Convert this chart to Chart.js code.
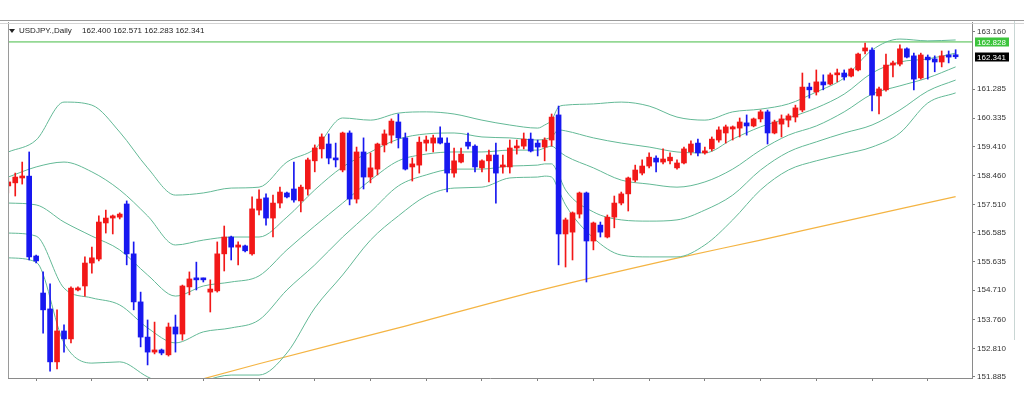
<!DOCTYPE html>
<html>
<head>
<meta charset="utf-8">
<title>USDJPY Daily</title>
<script src="https://cdn.jsdelivr.net/npm/chart.js@4.4.1/dist/chart.umd.min.js"></script>
<style>
  html, body { margin: 0; padding: 0; background: #fff; }
  #wrap { position: relative; width: 1024px; height: 402px; }
</style>
</head>
<body>
<div id="wrap"><canvas id="chart"></canvas></div>
<script>
const symbolTitle = "USDJPY.,Daily";
const lastQuote = ["162.400", "162.571", "162.283", "162.341"];

// Daily candles, oldest first
const opens = [
  158.12, 158.22, 158.38, 158.44, 155.83, 154.62, 154.10, 152.37, 153.38, 153.12,
  154.72, 154.85, 155.60, 155.73, 156.91, 157.07, 157.10, 157.53, 155.90, 154.33,
  153.18, 152.69, 152.76, 152.60, 153.51, 153.28, 154.82, 155.08, 155.08, 154.65,
  154.69, 155.90, 156.45, 156.12, 156.16, 155.90, 157.33, 157.73, 157.07, 157.56,
  157.89, 158.02, 157.63, 158.02, 158.94, 159.33, 159.49, 159.03, 158.64, 159.85,
  157.69, 159.23, 158.41, 158.67, 159.46, 159.78, 160.21, 159.69, 158.74, 158.80,
  159.52, 159.52, 159.69, 159.52, 158.54, 158.90, 159.55, 159.42, 158.71, 158.94,
  159.13, 158.74, 158.74, 159.36, 159.42, 159.65, 159.52, 159.39, 159.62, 160.44,
  156.55, 156.61, 157.20, 157.89, 156.32, 156.84, 156.45, 157.10, 157.56, 157.86,
  158.31, 158.54, 158.77, 159.03, 158.90, 158.94, 158.71, 158.87, 159.23, 159.52,
  159.20, 159.33, 159.62, 159.85, 159.98, 160.01, 160.18, 160.08, 160.31, 160.54,
  159.85, 160.14, 160.27, 160.37, 160.60, 161.35, 161.19, 161.52, 161.45, 161.75,
  161.81, 161.71, 161.91, 162.53, 162.56, 161.06, 161.26, 162.07, 162.10, 162.60,
  162.37, 161.65, 162.33, 162.27, 162.17, 162.40, 162.400
];
const highs = [
  158.38, 158.54, 158.90, 159.23, 155.86, 155.31, 154.92, 154.07, 153.58, 154.82,
  154.82, 155.80, 156.12, 157.14, 157.33, 157.17, 157.24, 157.63, 156.29, 154.65,
  153.74, 153.67, 152.79, 153.64, 153.90, 154.88, 155.31, 155.63, 155.11, 155.05,
  156.29, 156.81, 156.48, 156.29, 156.19, 157.76, 157.99, 157.86, 157.82, 158.08,
  157.92, 158.90, 158.15, 159.03, 159.46, 159.82, 159.82, 159.52, 159.88, 159.92,
  159.39, 159.69, 159.20, 159.52, 159.95, 160.31, 160.47, 159.85, 159.03, 159.72,
  159.75, 159.78, 160.05, 159.69, 159.36, 159.36, 159.85, 159.46, 158.97, 159.29,
  159.52, 159.13, 159.62, 159.62, 159.85, 159.85, 159.62, 159.69, 160.47, 160.73,
  157.07, 157.27, 157.92, 157.92, 156.94, 156.94, 157.17, 157.79, 157.92, 158.41,
  158.80, 158.97, 159.20, 159.10, 159.33, 159.20, 158.97, 159.39, 159.59, 159.65,
  159.39, 159.72, 160.05, 160.11, 160.08, 160.34, 160.44, 160.34, 160.60, 160.60,
  160.27, 160.44, 160.47, 160.76, 161.81, 161.48, 161.91, 161.75, 161.81, 161.94,
  161.91, 161.97, 162.46, 162.79, 162.63, 161.35, 162.43, 162.20, 162.73, 162.63,
  162.46, 162.46, 162.40, 162.37, 162.53, 162.53, 162.571
];
const lows = [
  157.89, 157.79, 158.18, 155.70, 155.60, 153.31, 152.07, 152.14, 152.69, 152.99,
  154.69, 154.52, 155.27, 155.67, 156.58, 156.55, 157.04, 155.54, 154.07, 152.86,
  152.27, 152.63, 152.60, 152.56, 152.69, 153.08, 154.56, 154.72, 154.98, 154.00,
  154.65, 155.34, 155.70, 155.54, 155.96, 155.86, 157.17, 156.84, 156.45, 157.40,
  157.73, 157.59, 157.27, 157.82, 158.58, 159.03, 158.84, 158.74, 158.58, 157.50,
  157.56, 158.02, 158.22, 158.48, 159.23, 159.52, 159.36, 158.64, 158.28, 158.54,
  159.26, 159.23, 159.49, 157.92, 158.41, 158.87, 159.33, 158.58, 158.58, 158.25,
  157.56, 158.54, 158.54, 159.16, 159.33, 159.23, 159.10, 158.94, 159.42, 155.54,
  155.47, 155.70, 157.07, 154.98, 156.03, 156.45, 156.42, 156.75, 157.50, 157.30,
  158.25, 158.48, 158.71, 158.58, 158.84, 158.84, 158.67, 158.84, 159.13, 159.10,
  159.16, 159.26, 159.55, 159.52, 159.62, 159.72, 159.78, 160.05, 160.21, 159.49,
  159.82, 159.72, 160.05, 160.21, 160.54, 160.99, 161.09, 161.26, 161.42, 161.52,
  161.58, 161.68, 161.88, 162.43, 160.57, 160.47, 161.22, 161.68, 162.04, 162.30,
  161.26, 161.61, 161.61, 161.85, 162.01, 162.14, 162.283
];
const closes = [
  158.25, 158.41, 158.44, 155.80, 155.67, 154.07, 152.37, 153.38, 153.12, 154.78,
  154.78, 155.60, 155.77, 156.94, 157.07, 157.14, 157.20, 155.90, 154.33, 153.18,
  152.69, 152.76, 152.66, 153.51, 153.28, 154.85, 155.08, 155.05, 155.05, 154.75,
  155.90, 156.45, 156.12, 156.19, 156.00, 157.37, 157.69, 157.07, 157.56, 157.92,
  157.76, 157.66, 158.08, 158.97, 159.36, 159.72, 159.03, 158.97, 159.85, 157.69,
  159.23, 158.41, 158.71, 159.49, 159.82, 160.24, 159.69, 158.67, 158.84, 159.55,
  159.62, 159.69, 159.52, 158.54, 158.94, 159.16, 159.42, 158.74, 158.94, 159.13,
  158.54, 158.80, 159.36, 159.42, 159.65, 159.26, 159.39, 159.62, 160.37, 156.55,
  157.01, 157.24, 157.89, 156.32, 156.91, 156.61, 157.10, 157.56, 157.86, 158.38,
  158.64, 158.77, 159.06, 158.90, 159.00, 159.06, 158.87, 159.33, 159.49, 159.20,
  159.26, 159.65, 159.95, 160.05, 160.05, 160.21, 160.08, 160.31, 160.54, 159.85,
  160.21, 160.31, 160.41, 160.67, 161.35, 161.26, 161.52, 161.42, 161.75, 161.81,
  161.68, 161.94, 162.43, 162.63, 161.09, 161.29, 162.07, 162.14, 162.60, 162.33,
  161.61, 162.40, 162.24, 162.17, 162.37, 162.33, 162.341
];

// Bollinger-style envelopes, read at every few bars
const bandIdx = [0, 4, 8, 12, 16, 20, 24, 28, 32, 36, 40, 44, 48, 52, 56, 60, 64, 68, 72, 76,
  77, 78, 79, 80, 84, 88, 92, 96, 100, 104, 108, 112, 116, 120, 124, 128, 132, 136];
const bandUp2 = [159.23, 159.62, 160.86, 160.76, 159.88, 158.71, 157.82, 157.89, 158.05, 158.08,
  158.90, 159.33, 160.34, 160.27, 160.50, 160.54, 160.47, 160.27, 160.11, 160.01,
  160.11, 160.27, 160.70, 160.76, 160.80, 160.86, 160.73, 160.37, 160.27, 160.54,
  160.63, 160.80, 161.19, 161.65, 162.56, 162.92, 162.86, 162.89];
const bandUp1 = [158.41, 158.74, 158.90, 158.58, 157.99, 157.14, 156.19, 156.35, 156.45, 156.45,
  157.10, 157.99, 158.74, 159.23, 159.65, 159.82, 159.85, 159.72, 159.69, 159.62,
  159.65, 159.72, 159.95, 159.92, 159.69, 159.52, 159.39, 159.23, 159.20, 159.65,
  160.05, 160.34, 160.67, 161.12, 161.81, 162.17, 162.27, 162.46];
const bandMid = [157.56, 157.50, 156.94, 156.48, 156.03, 155.21, 154.52, 154.85, 154.98, 155.18,
  156.03, 156.81, 157.56, 158.31, 158.94, 159.16, 159.23, 159.23, 159.29, 159.29,
  159.36, 159.42, 159.26, 159.10, 158.71, 158.31, 158.18, 158.08, 158.25, 158.67,
  159.29, 159.78, 160.08, 160.54, 161.12, 161.39, 161.65, 162.01];
const bandLow1 = [156.58, 156.48, 154.78, 154.46, 154.23, 153.48, 152.99, 153.35, 153.48, 153.74,
  154.72, 155.54, 156.45, 157.27, 158.12, 158.48, 158.67, 158.67, 158.77, 158.80,
  158.84, 158.84, 158.48, 157.99, 157.27, 157.01, 156.97, 157.01, 157.33, 157.82,
  158.64, 159.23, 159.56, 159.85, 160.11, 160.60, 161.22, 161.58];
const bandLow2 = [155.77, 155.63, 152.99, 152.33, 152.37, 151.88, 151.52, 151.75, 151.94, 151.94,
  152.66, 154.13, 155.21, 156.35, 157.14, 157.79, 158.05, 158.08, 158.38, 158.41,
  158.44, 158.41, 157.99, 157.50, 156.42, 155.86, 155.80, 155.80, 156.19, 157.01,
  157.99, 158.64, 158.94, 159.16, 159.39, 159.85, 160.83, 161.16];

// long moving average (orange)
const maIdx = [24, 36, 56, 76, 96, 108, 114, 136];
const maValues = [151.57, 152.31, 153.48, 154.69, 155.76, 156.35, 156.66, 157.77];

const levelPrice = 162.828;
const lastPrice = 162.341;
const yTickValues = [151.885, 152.810, 153.760, 154.710, 155.635, 156.585, 157.510,
  158.460, 159.410, 160.335, 161.285, 163.160];
const xTickIdx = [0, 8, 16, 24, 32, 40, 48, 56, 64, 72, 80, 88, 96, 104, 112, 120, 128, 136];

const UP = "#f21818";
const DOWN = "#1818f0";
const BAND = "#63b996";

const candleColors = opens.map((o, i) => (closes[i] >= o ? UP : DOWN));

function bandData(values, idx) {
  return idx.map((v, k) => ({ x: v, y: values[k] }));
}

function bandSet(values) {
  return {
    type: "line",
    data: bandData(values, bandIdx),
    borderColor: BAND,
    borderWidth: 1,
    pointRadius: 0,
    cubicInterpolationMode: "monotone",
    order: 3,
  };
}

// frame, title, price boxes
const mtDecor = {
  id: "mtDecor",
  afterDraw(chart) {
    const ctx = chart.ctx;
    const area = chart.chartArea;
    const yScale = chart.scales.y;
    ctx.save();

    ctx.strokeStyle = "#9a9a9a";
    ctx.lineWidth = 1;
    ctx.beginPath();
    ctx.moveTo(0, 20.5);
    ctx.lineTo(1024, 20.5);
    ctx.moveTo(area.left + 0.5, area.top);
    ctx.lineTo(area.left + 0.5, area.bottom);
    ctx.stroke();
    ctx.strokeStyle = "#d4d4d4";
    ctx.beginPath();
    ctx.moveTo(0, 23.5);
    ctx.lineTo(1024, 23.5);
    ctx.stroke();
    ctx.strokeStyle = "#c9d6d4";
    ctx.beginPath();
    ctx.moveTo(1014.5, 21);
    ctx.lineTo(1014.5, 340);
    ctx.stroke();

    // title row
    ctx.fillStyle = "#222";
    ctx.beginPath();
    ctx.moveTo(9, 29);
    ctx.lineTo(15, 29);
    ctx.lineTo(12, 33);
    ctx.closePath();
    ctx.fill();
    ctx.font = '8px "Liberation Sans", Arial, sans-serif';
    ctx.textBaseline = "middle";
    ctx.fillText(symbolTitle, 19, 31);
    ctx.fillText(lastQuote.join(" "), 82, 31);

    drawPriceBox(ctx, yScale, levelPrice, "#3cc43c", "#ffffff");
    drawPriceBox(ctx, yScale, lastPrice, "#000000", "#ffffff");
    ctx.restore();
  },
};

function drawPriceBox(ctx, yScale, value, bg, fg) {
  const y = Math.round(yScale.getPixelForValue(value));
  const x = yScale.left + 3;
  ctx.fillStyle = bg;
  ctx.fillRect(x, y - 4.5, 34, 9);
  ctx.fillStyle = fg;
  ctx.font = '8px "Liberation Sans", Arial, sans-serif';
  ctx.textBaseline = "middle";
  ctx.fillText(value.toFixed(3), x + 2, y + 0.5);
}

const ctx = document.getElementById("chart").getContext("2d");
new Chart(ctx, {
  type: "bar",
  data: {
    datasets: [
      {
        label: "bodies",
        data: opens.map((o, i) => ({ x: i, y: [o, closes[i]] })),
        backgroundColor: candleColors,
        barThickness: 5,
        minBarLength: 2,
        grouped: false,
        order: 0,
      },
      {
        label: "wicks",
        data: opens.map((o, i) => ({ x: i, y: [lows[i], highs[i]] })),
        backgroundColor: candleColors,
        barThickness: 1,
        grouped: false,
        order: 1,
      },
      bandSet(bandUp2),
      bandSet(bandUp1),
      bandSet(bandMid),
      bandSet(bandLow1),
      bandSet(bandLow2),
      {
        type: "line",
        data: bandData(maValues, maIdx),
        borderColor: "#f4b443",
        borderWidth: 1.2,
        pointRadius: 0,
        cubicInterpolationMode: "monotone",
        order: 3,
      },
      {
        type: "line",
        data: [{ x: -2, y: levelPrice }, { x: 140, y: levelPrice }],
        borderColor: "#94d894",
        borderWidth: 1.6,
        pointRadius: 0,
        order: 4,
      },
    ],
  },
  options: {
    responsive: true,
    maintainAspectRatio: false,
    animation: false,
    events: [],
    layout: { padding: { top: 22, left: 8, right: 0, bottom: 0 } },
    plugins: {
      legend: { display: false },
      tooltip: { enabled: false },
    },
    scales: {
      x: {
        type: "linear",
        min: -0.04,
        max: 138.35,
        offset: false,
        grid: { drawOnChartArea: false, drawTicks: true, tickLength: 3, color: "#808080" },
        border: { display: true, color: "#8a8a8a" },
        ticks: { display: false },
        afterBuildTicks: (s) => {
          s.ticks = xTickIdx.map((v) => ({ value: v }));
        },
        afterFit: (s) => {
          s.height = 24;
        },
      },
      y: {
        position: "right",
        min: 151.843,
        max: 163.477,
        grid: { drawOnChartArea: false, drawTicks: true, tickLength: 3, color: "#808080" },
        border: { display: true, color: "#8a8a8a" },
        ticks: {
          autoSkip: false,
          padding: 2,
          color: "#333",
          font: { family: '"Liberation Sans", Arial, sans-serif', size: 8 },
          callback: (v) => Number(v).toFixed(3),
        },
        afterBuildTicks: (s) => {
          s.ticks = yTickValues.map((v) => ({ value: v }));
        },
        afterFit: (s) => {
          s.width = 52;
        },
      },
    },
  },
  plugins: [mtDecor],
});
</script>
</body>
</html>
